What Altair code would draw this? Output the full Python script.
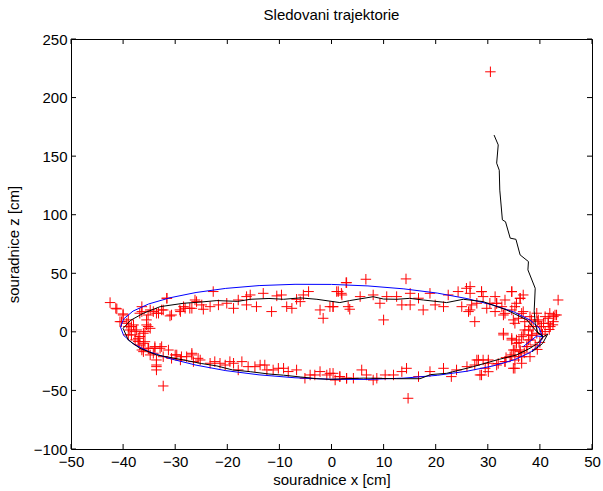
import altair as alt
import pandas as pd

# measured points (red crosses)
red_x = [-42.5, -41.4, -40.0, -40.6, -39.3, -36.4, -36.8, -34.8, -33.6, -32.6, -31.6, -31.0, -29.0, -28.4,
         -27.2, -25.9, -24.6, -23.3, -22.7, -21.7, -20.1, -18.8, -17.9, -16.3, -15.6, -16.3, -14.4, -13.1,
         -11.5, -10.5, -9.6, -8.6, -7.6, -6.7, -5.4, -4.4, -6.0, -2.2, -1.6, -0.3, 0.3, 1.3, 1.9, 2.8, 3.2,
         -39.0, -38.7, -38.4, -38.0, -37.4, -36.8, -37.7, -35.5, -34.8, -35.8, -36.1, -37.1, -35.1, -33.9,
         -32.9, -34.2, -32.3, -30.7, -33.6, -29.7, -33.6, -32.3, -36.4,
         -29.0, -27.8, -26.8, -25.2, -26.5, -23.3, -22.4, -21.4, -20.4, -19.5, -18.8, -17.9, -17.2, -16.0,
         -14.7, -13.7, -12.8, -12.4, -11.2, -10.2, -9.2, -8.3, -6.7, -5.1, -4.1, -3.2, -2.2, -0.9, -0.3,
         0.7, 1.6, 2.9,
         2.9, 6.6, 14.3, 1.0, 2.0, 5.5, 8.0, 9.3, 3.5, 0.3, 10.6, 12.5, 13.5, 15.1, 15.1, 16.7, 17.6, 18.9,
         19.9, 21.5, 22.4, 10.0, 24.3, 25.0, 25.9, 26.6, 26.6, 27.9, 28.8, 29.1, 29.8, 30.4, 31.7, 31.4,
         32.7, 33.0, 33.3, 34.6, 34.6, 36.2, 35.5, 36.8, 27.5, 33.0, 34.9, 35.9, 37.1, 38.1, 39.4, 40.7,
         41.6, 42.6, 43.2, 43.5, 42.0, 41.0, 40.0, 38.7, 37.8, 36.8, 35.5, 34.6, 38.1, 39.1, 37.5, 36.2,
         35.2, 34.6, 36.5, 38.1, 33.3, 34.9, 36.5,
         27.9, 29.1, 30.1, 31.7, 28.8, 26.0, 24.0, 23.0, 21.5, 18.9, 16.7, 14.4, 13.5, 11.9, 10.3, 8.7,
         8.0, 5.8, 6.7, 4.2, 2.9, 14.7, 0.3, 1.6,
         40.5, 41.8, 39.5, 42.5, 38.5, 40.0, 36.0, 37.0, 39.5, 33.5, 32.0, 30.5,
         -41.2, -40.0, -40.3, -39.0, -38.4, -37.7, -39.0, -37.1, -36.4, -35.2, -34.2, -33.2, -32.3, -35.2,
         -35.5, -36.1, -35.8, -36.8, -35.2, -33.9, -32.6, -36.1, -34.8, -33.6, -33.6, -31.3, -30.0, -28.8,
         -26.8, -25.6, -31.6, -30.7, -29.1, -28.1, -26.8, -26.2, -24.9,
         26.6, 28.8, 26.9, 26.3, 31.4, 31.7, 34.6, 36.2, 36.8, 33.3, 35.2, 36.5, 33.0, 35.2, 34.6, 35.5,
         34.9, 36.5, 37.1, 38.1, 38.4, 39.7, 41.0, 41.9, 42.9, 41.6, 42.6, 40.3, 39.4, 38.4, 37.8, 37.5,
         36.2, 35.9, 35.2, 34.3, 33.3, 35.2, 30.1, 28.2, 27.5, 29.5, 30.1, 28.5]
red_z = [25.0, 20.1, 15.3, 8.7, 7.3, 21.5, 15.9, 18.7, 15.9, 18.7, 28.7, 13.6, 17.3, 21.5,
         20.1, 25.8, 19.3, 21.5, 34.4, 23.0, 24.4, 20.1, 27.2, 23.0, 31.5, 30.1, 21.5, 32.9,
         17.3, 30.7, 31.5, 21.5, 20.1, 27.8, 31.5, 34.4, 25.8, 18.7, 11.6, 21.5, 21.5, 34.4, 32.9, 42.0, 21.5,
         4.5, 1.6, -2.6, 5.9, 1.6, -4.0, -6.9, 5.9, 3.0, 0.2, -9.8, -8.3, -14.0, -12.6,
         -14.0, -18.3, -21.2, -22.6, -24.0, -19.7, -29.7, -46.2, -15.5,
         -24.0, -21.2, -19.7, -24.0, -25.4, -26.8, -25.4, -26.8, -28.3, -25.4, -26.8, -32.5, -25.4, -29.7,
         -29.7, -28.3, -28.3, -32.5, -32.5, -31.1, -31.1, -33.9, -32.5, -39.6, -36.8, -36.8, -33.9, -36.8, -35.4,
         -41.1, -38.2, -39.6,
         42.0, 44.9, 45.2, 34.4, 31.5, 30.1, 31.5, 24.4, 19.3, 21.5, 30.1, 30.1, 23.0, 32.9, 23.0, 28.7, 18.7, 32.9,
         23.0, 21.5, 31.5, 10.2, 34.4, 21.5, 37.2, 32.9, 18.7, 24.4, 34.4, 30.1, 20.1, 24.4, 24.4, 17.3,
         21.5, 14.4, 27.2, 34.4, 18.7, 28.7, 24.4, 17.3, 8.7, -2.6, 10.2, 11.6, 8.7, 13.0, 15.9, 7.3,
         11.6, 13.0, 14.4, 27.2, 4.5, 0.2, 4.5, 4.5, 1.6, -2.6, -6.9, -6.9, -6.9, -11.2, -12.6, -15.5,
         -15.5, -19.7, -21.2, -21.2, -25.4, -31.1, -26.8,
         -24.0, -24.0, -26.8, -28.3, -36.8, -29.7, -32.5, -38.2, -31.1, -33.9, -38.2, -31.1, -33.9, -36.8, -36.8, -39.6,
         -41.1, -32.5, -36.8, -39.6, -39.6, -56.7, -35.4, -38.2,
         -2.0, 2.0, 9.0, 6.0, -3.0, -9.0, -9.0, -18.0, -15.0, -22.0, -27.0, 222.0,
         19.6, 14.4, 8.7, 10.2, 4.5, 0.2, -2.6, -5.5, 17.3, 14.4, 17.3, 15.9, 18.7, 4.5,
         10.2, -1.2, -8.4, -11.2, -14.0, -14.0, -12.6, -16.9, -19.7, -28.3, -32.5, -15.5, -19.7, -21.2,
         -18.3, -22.6, 28.7, 14.4, 18.7, 20.1, 20.1, 27.2, 23.0,
         38.6, 34.3, 23.0, 17.3, 30.1, 24.4, 34.3, 28.6, 31.5, 15.8, 21.5, 15.8, -1.2, 7.3, -5.5, -9.8,
         -15.5, -4.1, 1.6, 4.5, 10.2, 10.2, 13.0, 15.8, 14.4, 7.3, 8.7, 4.5, -1.2, -2.7, -6.9, -12.6,
         -16.9, -21.2, -24.0, -21.2, -25.4, -31.1, -24.0, -24.0, -28.3, -31.1, -34.0, -36.8]

# reference trajectory (blue)
blue_x = [40.5, 39.9, 38.1, 35.1, 31.0, 26.0, 20.3, 13.9, 7.0, 0.0, -7.0, -13.9, -20.3, -26.0, -31.0,
          -35.1, -38.1, -39.9, -40.5, -39.9, -38.1, -35.1, -31.0, -26.0, -20.3, -13.9, -7.0, 0.0, 7.0,
          13.9, 20.3, 26.0, 31.0, 35.1, 38.1, 39.9, 40.5, 39.4, 36.8]
blue_z = [-4.1, 3.0, 10.1, 16.8, 22.9, 28.4, 33.1, 36.7, 39.2, 40.5, 40.6, 39.5, 37.1, 33.6, 29.1,
          23.8, 17.7, 11.0, 4.1, -3.0, -10.1, -16.8, -22.9, -28.4, -33.1, -36.7, -39.2, -40.5, -40.6,
          -39.5, -37.1, -33.6, -29.1, -23.8, -17.7, -11.0, -4.1, -3.5, -12.6]

# estimated trajectory (black)
black_x = [31.2, 32.0, 31.7, 32.2, 32.3, 32.8, 33.4, 34.3, 35.4, 36.2, 37.8, 37.7, 39.1, 39.0, 38.9,
           39.1, 39.6, 40.7, 39.5, 38.1, 35.5, 31.7, 27.2, 22.1, 19.0, 17.0, 12.5, 6.1, -0.3, -2.8,
           -6.0, -9.2, -12.0, -15.6, -19.0, -22.0, -25.0, -28.4, -33.6, -36.8, -39.0, -40.0, -38.5,
           -36.1, -32.9, -28.4, -25.0, -22.0, -18.0, -15.6, -12.0, -9.2, -6.0, -2.8, 1.6, 3.5, 8.0,
           10.0, 12.5, 15.0, 17.6, 22.1, 25.3, 29.1, 33.6, 37.5, 39.4, 40.7, 41.5, 40.5, 38.5]
black_z = [168.0, 159.6, 144.0, 138.0, 121.0, 95.6, 94.0, 80.0, 79.0, 65.7, 60.0, 52.9, 37.2, 27.2, 18.0,
           7.3, -1.0, -4.1, -10.0, -14.0, -19.7, -24.0, -29.7, -35.4, -36.5, -40.0, -40.0, -39.5, -40.5, -40.0,
           -38.5, -37.0, -36.0, -34.0, -32.5, -29.1, -27.0, -24.0, -19.7, -14.0, -7.0, 3.0, 10.0,
           15.9, 21.5, 24.4, 25.5, 26.7, 26.0, 27.8, 28.5, 27.8, 29.0, 27.8, 25.0, 26.7, 30.0,
           28.0, 27.8, 28.6, 27.2, 25.0, 27.8, 25.8, 18.7, 10.2, 0.2, -4.1, -2.0, -10.0, -17.0]

x_ticks = [-50, -40, -30, -20, -10, 0, 10, 20, 30, 40, 50]
y_ticks = [-100, -50, 0, 50, 100, 150, 200, 250]

W, H = 521, 410
FONT = "Liberation Sans"

pts = pd.DataFrame({"x": red_x, "z": red_z})
blue = pd.DataFrame({"x": blue_x, "z": blue_z, "i": list(range(len(blue_x)))})
black = pd.DataFrame({"x": black_x, "z": black_z, "i": list(range(len(black_x)))})
xt = pd.DataFrame({"x": x_ticks})
yt = pd.DataFrame({"z": y_ticks})

xscale = alt.Scale(domain=[-50, 50], nice=False, zero=False)
yscale = alt.Scale(domain=[-100, 250], nice=False, zero=False)
xaxis = alt.Axis(values=x_ticks, title="souradnice x [cm]", ticks=False, domain=False, grid=False,
                 labelOverlap=False, labelFlush=False, labelPadding=5, titlePadding=3, format="d")
yaxis = alt.Axis(values=y_ticks, title="souradnice z [cm]", ticks=False, domain=False, grid=False,
                 labelOverlap=False, labelFlush=False, labelPadding=4, titlePadding=12, format="d")

X = alt.X("x:Q", scale=xscale, axis=xaxis)
Y = alt.Y("z:Q", scale=yscale, axis=yaxis)

red = alt.Chart(pts).mark_point(shape="M-1,0H1M0,-1V1", filled=False, color="#ff0000",
                                size=110, strokeWidth=1, opacity=1).encode(x=X, y=Y)
blk = alt.Chart(black).mark_line(color="#000000", strokeWidth=1).encode(x=X, y=Y, order="i:Q")
blu = alt.Chart(blue).mark_line(color="#0000ff", strokeWidth=1).encode(x=X, y=Y, order="i:Q")

tb = alt.Chart(xt).mark_rule(color="black", strokeWidth=1).encode(x=X, y=alt.value(H), y2=alt.value(H - 5))
tt = alt.Chart(xt).mark_rule(color="black", strokeWidth=1).encode(x=X, y=alt.value(0), y2=alt.value(5))
tl = alt.Chart(yt).mark_rule(color="black", strokeWidth=1).encode(y=Y, x=alt.value(0), x2=alt.value(5))
tr = alt.Chart(yt).mark_rule(color="black", strokeWidth=1).encode(y=Y, x=alt.value(W), x2=alt.value(W - 5))

chart = alt.layer(red, blu, blk, tb, tt, tl, tr).properties(
    width=W, height=H,
    title=alt.TitleParams("Sledovani trajektorie", font=FONT, fontSize=15, fontWeight="normal",
                          color="black", offset=9),
    autosize=alt.AutoSizeParams(type="none"),
    padding={"left": 71, "top": 39, "right": 11, "bottom": 42},
    background="white",
).configure_view(stroke="black", strokeWidth=1).configure_axis(
    labelFont=FONT, labelFontSize=15, labelColor="black",
    titleFont=FONT, titleFontSize=15, titleFontWeight="normal", titleColor="black",
)

chart.save("out.html", embed_options={"renderer": "svg", "actions": False})
